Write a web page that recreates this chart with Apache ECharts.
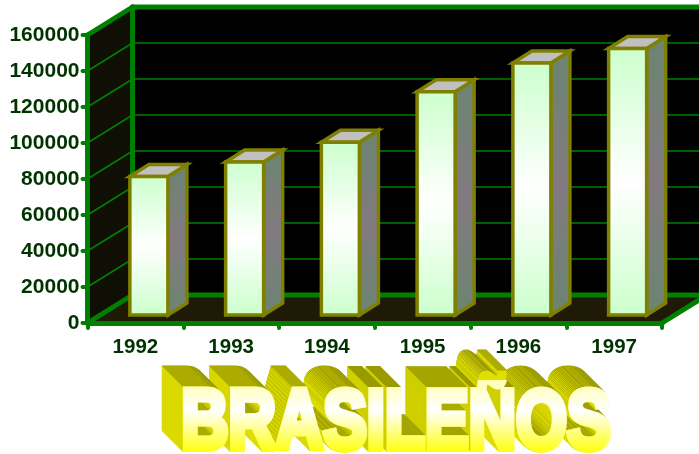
<!DOCTYPE html>
<html>
<head>
<meta charset="utf-8">
<style>
  html, body { margin: 0; padding: 0; background: #fff; }
  #chart-container { width: 699px; height: 454px; }
</style>
</head>
<body>
<div id="chart-container"></div>
<script src="https://cdn.jsdelivr.net/npm/echarts@6/dist/echarts.min.js"></script>
<script>
var years = ['1992', '1993', '1994', '1995', '1996', '1997'];
var values = [77000, 85000, 96000, 124000, 140000, 148000];
var yTicks = [20000, 40000, 60000, 80000, 100000, 120000, 140000, 160000];
var heading = 'BRASILEÑOS';

var GREEN = '#008000';
var LABEL = '#003300';
var OLIVE = '#808000';

// depth of the box and of each bar
var wallDx = 45, wallDy = -28;
var barDx = 19, barDy = -12;
var barShiftX = 13.5, barShiftY = -8, barWidth = 38;

// heading placement
var headFont = '900 84px "Liberation Sans"';
var headX = 396, headY = 467, headScale = 0.78, headDepth = 21;

var dom = document.getElementById('chart-container');
var myChart = echarts.init(dom, null, { renderer: 'canvas' });

function poly(points, style, z2) {
  return { type: 'polygon', z2: z2 || 0, shape: { points: points }, style: style };
}
function seg(x1, y1, x2, y2, width, z2) {
  return {
    type: 'line', z2: z2 || 0,
    shape: { x1: x1, y1: y1, x2: x2, y2: y2 },
    style: { stroke: GREEN, lineWidth: width, lineCap: 'round' }
  };
}

function renderWalls(params, api) {
  var c = params.coordSys;
  var l = c.x, r = c.x + c.width, t = c.y, b = c.y + c.height;
  var kids = [
    poly([[l + wallDx, t + wallDy], [r + wallDx, t + wallDy], [r + wallDx, b + wallDy], [l + wallDx, b + wallDy]], { fill: '#000' }),
    poly([[l, t], [l + wallDx, t + wallDy], [l + wallDx, b + wallDy], [l, b]], { fill: '#100f05' }),
    poly([[l, b], [l + wallDx, b + wallDy], [r + wallDx, b + wallDy], [r, b]], { fill: '#1f1a05' })
  ];
  yTicks.forEach(function (v) {
    var y = api.coord([0, v])[1];
    kids.push(seg(l, y, l + wallDx, y + wallDy, 1.5, 1));
    kids.push(seg(l + wallDx, y + wallDy, r + wallDx, y + wallDy, 1.5, 1));
  });
  kids.push(seg(l, t, l + wallDx, t + wallDy, 5, 2));
  kids.push(seg(l + wallDx, t + wallDy, r + wallDx, t + wallDy, 5, 2));
  kids.push(seg(l + wallDx, t + wallDy, l + wallDx, b + wallDy, 5, 2));
  kids.push(seg(l + wallDx, b + wallDy, r + wallDx, b + wallDy, 5, 2));
  kids.push(seg(l, b, l + wallDx, b + wallDy, 5, 2));
  kids.push(seg(r, b, r + wallDx, b + wallDy, 5, 2));
  return { type: 'group', children: kids };
}

function renderBar(params, api) {
  var top = api.coord([api.value(0), api.value(1)]);
  var base = api.coord([api.value(0), 0]);
  var x0 = top[0] + barShiftX - barWidth / 2, x1 = x0 + barWidth;
  var y0 = top[1] + barShiftY, y1 = base[1] + barShiftY;
  var edge = { stroke: OLIVE, lineWidth: 3.5, lineJoin: 'miter' };
  return {
    type: 'group',
    children: [
      poly([[x1, y0], [x1 + barDx, y0 + barDy], [x1 + barDx, y1 + barDy], [x1, y1]], Object.assign({
        fill: new echarts.graphic.LinearGradient(0, 0, 0, 1, [
          { offset: 0, color: '#6b8570' },
          { offset: 0.5, color: '#827a80' },
          { offset: 1, color: '#6b8570' }
        ])
      }, edge)),
      poly([[x0, y0], [x0 + barDx, y0 + barDy], [x1 + barDx, y0 + barDy], [x1, y0]], Object.assign({ fill: '#c0c0c0' }, edge)),
      poly([[x0, y0], [x1, y0], [x1, y1], [x0, y1]], Object.assign({
        fill: new echarts.graphic.LinearGradient(0, 0, 0, 1, [
          { offset: 0, color: '#ccffcc' },
          { offset: 0.5, color: '#ffffff' },
          { offset: 1, color: '#ccffcc' }
        ])
      }, edge))
    ]
  };
}

function headStyle(fill) {
  return { text: heading, font: headFont, fill: fill, stroke: fill, lineWidth: 7, lineJoin: 'miter', textAlign: 'center', textVerticalAlign: 'bottom' };
}

// extruded heading: a dark and a bright copy per step
function headingLayers() {
  var out = [];
  for (var i = headDepth; i >= 1; i--) {
    out.push({ type: 'text', z: 50 + (headDepth - i) * 2, x: headX - i, y: headY - i, scaleX: headScale, style: headStyle('#999900') });
    out.push({ type: 'text', z: 51 + (headDepth - i) * 2, x: headX - i, y: headY - i + 1, scaleX: headScale, style: headStyle('#e0e000') });
  }
  return out;
}

// front face: text fill can't take a gradient, so one solid copy per thin band, clipped to it
function renderFace() {
  var faceTop = 380, faceBottom = 454, faceStep = 2;
  var kids = [];
  for (var y = faceTop; y < faceBottom; y += faceStep) {
    var t = (y - faceTop) / (faceBottom - faceTop);
    var col = t < 0.4 ? echarts.color.lerp(t / 0.4, ['#ffffb0', '#ffffff']) : echarts.color.lerp((t - 0.4) / 0.6, ['#ffffff', '#ffff00']);
    kids.push({
      type: 'group',
      clipPath: { type: 'rect', shape: { x: 0, y: y, width: 699, height: faceStep } },
      children: [{ type: 'text', x: headX, y: headY, scaleX: headScale, style: headStyle(col) }]
    });
  }
  return { type: 'group', children: kids };
}

var option = {
  animation: false,
  backgroundColor: '#fff',
  grid: { left: 87.5, right: 37, top: 35, bottom: 131 },
  xAxis: {
    type: 'category',
    data: years,
    z: 5,
    axisLine: { lineStyle: { color: GREEN, width: 5, cap: 'round' } },
    axisTick: { show: true, length: 5, lineStyle: { color: GREEN, width: 4, cap: 'round' } },
    axisLabel: { color: LABEL, fontFamily: 'Liberation Sans', fontWeight: 'bold', fontSize: 20.5, margin: 14 }
  },
  yAxis: {
    type: 'value',
    min: 0,
    max: 160000,
    interval: 20000,
    z: 5,
    splitLine: { show: false },
    axisLine: { show: true, lineStyle: { color: GREEN, width: 5, cap: 'round' } },
    axisTick: { show: true, length: 5, lineStyle: { color: GREEN, width: 4, cap: 'round' } },
    axisLabel: {
      color: LABEL, fontFamily: 'Liberation Sans', fontWeight: 'bold', fontSize: 21, margin: 8, padding: [2, 0, 0, 0],
      formatter: function (v) { return String(v); }
    }
  },
  series: [
    { type: 'custom', z: 1, silent: true, renderItem: renderWalls, data: [0] },
    { type: 'custom', z: 2, renderItem: renderBar, encode: { x: 0, y: 1 }, data: values.map(function (v, i) { return [i, v]; }) },
    { type: 'custom', z: 100, silent: true, renderItem: renderFace, data: [0] }
  ],
  graphic: headingLayers()
};

myChart.setOption(option);

window.addEventListener('resize', myChart.resize);
</script>
</body>
</html>
